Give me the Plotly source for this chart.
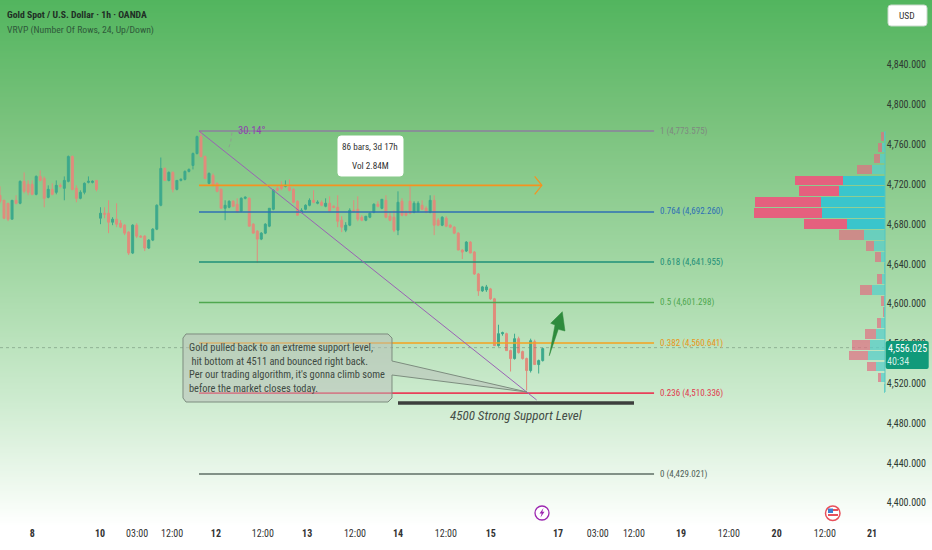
"""Gold spot 1h chart with fib levels and a volume profile."""

import numpy as np
import plotly.graph_objects as go

FONT = "'Roboto Condensed', 'Noto Sans Condensed', 'Open Sans Condensed', 'DejaVu Sans Condensed', Roboto, sans-serif"
PX_PER_BAR = 4.02
PLOT_H = 526

# candles
bar_open = [4709, 4704, 4701, 4685, 4704, 4701, 4723, 4720, 4720, 4710, 4728, 4726, 4707, 4715, 4712, 4719, 4716, 4723,
            4748, 4716, 4706, 4712, 4722, 4722, 4724, 4686, 4691, 4691, 4682, 4685, 4681, 4679, 4672, 4651, 4679, 4668,
            4668, 4656, 4664, 4675, 4699, 4736, 4724, 4732, 4715, 4724, 4725, 4733, 4739, 4751, 4768, 4748, 4721, 4729,
            4721, 4715, 4696, 4697, 4703, 4700, 4693, 4706, 4706, 4680, 4673, 4665, 4671, 4678, 4695, 4716, 4719, 4718,
            4717, 4715, 4703, 4692, 4695, 4699, 4704, 4701, 4702, 4698, 4701, 4698, 4697, 4684, 4674, 4679, 4694, 4695,
            4687, 4684, 4687, 4692, 4700, 4696, 4704, 4688, 4687, 4674, 4703, 4692, 4703, 4692, 4693, 4699, 4696, 4692,
            4704, 4684, 4679, 4686, 4679, 4677, 4671, 4654, 4653, 4662, 4652, 4630, 4613, 4614, 4615, 4605, 4558, 4570,
            4570, 4553, 4545, 4565, 4552, 4545, 4533, 4562, 4539, 4543]
bar_high = [4718, 4704.5, 4701, 4704, 4709, 4724, 4732, 4724, 4724, 4729, 4734, 4728, 4719, 4721, 4724, 4721, 4728, 4749,
            4749, 4719, 4714, 4722, 4728, 4724, 4724, 4697, 4697, 4704, 4687, 4701, 4684, 4680, 4673, 4680, 4681, 4669,
            4669, 4665, 4676, 4700, 4747, 4737, 4733, 4733, 4724, 4726, 4734, 4736, 4752, 4769, 4774, 4749, 4732, 4731,
            4722, 4716, 4704, 4704, 4704, 4706, 4707, 4708, 4707, 4681, 4674, 4672, 4681, 4696, 4715, 4718, 4723, 4724,
            4725, 4716, 4704, 4696, 4700, 4706, 4714, 4704, 4704, 4706, 4708, 4699, 4709, 4688, 4682, 4696, 4704, 4708,
            4689, 4688, 4692, 4701, 4703, 4705, 4709, 4692, 4694, 4713, 4706, 4694, 4718, 4703, 4703, 4704, 4698, 4709,
            4709, 4686, 4688, 4688, 4680, 4678, 4672, 4655, 4663, 4663, 4653, 4631, 4618, 4619, 4616, 4606, 4579, 4572,
            4571, 4554, 4570, 4567, 4553, 4546, 4565, 4564, 4544, 4556]
bar_low = [4701, 4685, 4683, 4685, 4700, 4700, 4711, 4709, 4709, 4709, 4723, 4697, 4706, 4709, 4710, 4716, 4704, 4722,
           4714, 4702, 4705, 4710, 4721, 4721, 4713, 4680, 4686, 4671, 4679, 4677, 4676, 4669, 4649, 4650, 4666, 4667,
           4653, 4655, 4663, 4674, 4698, 4724, 4723, 4712, 4714, 4723, 4724, 4732, 4735, 4750, 4747, 4725, 4720, 4718,
           4712, 4696, 4684, 4696, 4697, 4692, 4692, 4705, 4678, 4671, 4641, 4664, 4670, 4677, 4694, 4713, 4714, 4717,
           4713, 4701, 4689, 4691, 4694, 4698, 4701, 4700, 4698, 4697, 4692, 4696, 4677, 4672, 4672, 4678, 4692, 4683,
           4683, 4683, 4686, 4691, 4697, 4695, 4686, 4683, 4672, 4669, 4688, 4688, 4690, 4691, 4692, 4694, 4691, 4691,
           4669, 4678, 4678, 4677, 4676, 4670, 4654, 4645, 4652, 4651, 4629, 4608, 4612, 4612, 4604, 4558, 4557, 4568,
           4553, 4532, 4544, 4550, 4544, 4513, 4531, 4539, 4530, 4542]
bar_close = [4703, 4686, 4685, 4704, 4701, 4723, 4713, 4712, 4710, 4728, 4724, 4706, 4715, 4710, 4719, 4718, 4724, 4748,
             4715, 4706, 4712, 4721, 4723, 4723, 4715, 4691, 4690, 4682, 4685, 4680, 4677, 4671, 4651, 4679, 4668, 4667,
             4656, 4664, 4675, 4699, 4736, 4724, 4732, 4715, 4724, 4725, 4733, 4735, 4751, 4768, 4748, 4726, 4731, 4719,
             4713, 4696, 4699, 4703, 4698, 4692, 4706, 4707, 4678, 4671, 4665, 4671, 4680, 4696, 4714, 4714, 4716, 4719,
             4714, 4702, 4689, 4694, 4699, 4704, 4702, 4702, 4699, 4701, 4693, 4697, 4683, 4677, 4679, 4694, 4693, 4685,
             4684, 4688, 4691, 4700, 4698, 4705, 4687, 4684, 4674, 4702, 4689, 4689, 4691, 4701, 4701, 4695, 4692, 4704,
             4679, 4679, 4687, 4678, 4677, 4671, 4654, 4652, 4662, 4651, 4630, 4613, 4617, 4617, 4605, 4558, 4570, 4571,
             4553, 4545, 4565, 4551, 4545, 4533, 4563, 4539, 4543, 4555]
bar_index = list(range(len(bar_open)))

# fib retracement
fib_levels = ["1", "0.764", "0.618", "0.5", "0.382", "0.236", "0"]
fib_prices = [4773.575, 4692.260, 4641.955, 4601.298, 4560.641, 4510.336, 4429.021]
fib_colors = ["#8d7f9e", "#2f6fb5", "#1f8f78", "#4fa84f", "#f5a21f", "#e8415a", "#5f6f66"]
fib_label_colors = ["#7f8a80", "#2f6fb5", "#1f8f78", "#4fa84f", "#e8951a", "#e03a4e", "#4f5f56"]
fib_bars = [49.5, 162.7]

# volume profile rows, thousands
row_price = [4768, 4757, 4746, 4735, 4724, 4713, 4702, 4691, 4680, 4669, 4658, 4647,
             4636, 4625, 4614, 4603, 4592, 4581, 4570, 4559, 4548, 4537, 4526, 4515]
row_up = [4, 11, 18, 47, 160, 174, 242, 239, 142, 79, 39, 13, 1, 10, 47, 3, 1, 15, 34, 54, 63, 34, 13, 2]
row_down = [10, 14, 23, 58, 179, 152, 251, 257, 165, 94, 32, 22, 3, 19, 48, 9, 6, 14, 41, 71, 73, 33, 13, 2]
value_area = [4724, 4713, 4702, 4691, 4680]

# axes
price_ticks = [4840, 4800, 4760, 4720, 4680, 4640, 4600, 4560, 4520, 4480, 4440, 4400]
time_ticks = [8, 24.9, 34.1, 42.8, 53.7, 65.4, 76.4, 88.3, 99, 110.9, 122.1,
              138.8, 148.7, 157.7, 169.4, 181.3, 193.2, 205.2, 216.9]
time_labels = ["<b>8</b>", "<b>10</b>", "03:00", "12:00", "<b>12</b>", "12:00", "<b>13</b>", "12:00", "<b>14</b>",
               "12:00", "<b>15</b>", "<b>17</b>", "03:00", "12:00", "<b>19</b>", "12:00", "<b>20</b>", "12:00",
               "<b>21</b>"]

# background fade, fraction of plot height -> colour
fade_stops = [0, 0.05, 0.24, 0.468, 0.772, 1]
fade_colors = ["#ffffff", "#f4fbf4", "#cdebcf", "#a6d9a8", "#79c27c", "#52b55e"]

y_top = 4773.6 + 131 * 1.0045
y_bottom = 4773.6 - (PLOT_H - 131) * 1.0045
x_end = 932 / PX_PER_BAR


def xp(px):
    return px / 932


def yp(py):
    return 1 - py / PLOT_H


def paper_path(points):
    """Closed SVG path from picture pixels."""
    return "M " + " L ".join(f"{xp(x):.5f},{yp(y):.5f}" for x, y in points) + " Z"


def round_rect(x0, y0, x1, y1, r):
    return (f"M {xp(x0 + r):.5f},{yp(y0):.5f} L {xp(x1 - r):.5f},{yp(y0):.5f} "
            f"Q {xp(x1):.5f},{yp(y0):.5f} {xp(x1):.5f},{yp(y0 + r):.5f} L {xp(x1):.5f},{yp(y1 - r):.5f} "
            f"Q {xp(x1):.5f},{yp(y1):.5f} {xp(x1 - r):.5f},{yp(y1):.5f} L {xp(x0 + r):.5f},{yp(y1):.5f} "
            f"Q {xp(x0):.5f},{yp(y1):.5f} {xp(x0):.5f},{yp(y1 - r):.5f} L {xp(x0):.5f},{yp(y0 + r):.5f} "
            f"Q {xp(x0):.5f},{yp(y0):.5f} {xp(x0 + r):.5f},{yp(y0):.5f} Z")


def line_trace(x, y, color, width=1.5, dash="solid"):
    return go.Scatter(x=x, y=y, mode="lines", line=dict(color=color, width=width, dash=dash),
                      hoverinfo="skip", showlegend=False)


fig = go.Figure()

# gradient background
fade_y = np.linspace(y_bottom, y_top, 264)
fig.add_trace(go.Heatmap(
    x=[0, x_end],
    y=fade_y,
    z=[[v, v] for v in (fade_y - y_bottom) / (y_top - y_bottom)],
    zmin=0, zmax=1,
    colorscale=list(zip(fade_stops, fade_colors)),
    showscale=False,
    hoverinfo="skip",
))

# last price line
fig.add_trace(line_trace([0, 220], [4556, 4556], "rgba(110,140,115,0.55)", 1, "dot"))

fig.add_trace(go.Candlestick(
    x=bar_index, open=bar_open, high=bar_high, low=bar_low, close=bar_close,
    increasing=dict(line=dict(color="#3da98c", width=1), fillcolor="#3da98c"),
    decreasing=dict(line=dict(color="#e08c7c", width=1), fillcolor="#e08c7c"),
    whiskerwidth=0,
    showlegend=False,
))

# fib levels and labels
for price, color in zip(fib_prices, fib_colors):
    fig.add_trace(line_trace(fib_bars, [price, price], color, 1.6))

# trend line, angle arc, horizontal ray with arrow head
fig.add_trace(line_trace([49.5, 133.5], [4773.6, 4503.4], "#9a62b4", 1))
fig.add_trace(line_trace([57.7, 57.4, 56.7], [4772, 4763, 4754], "#8f9f8f", 1, "dot"))
fig.add_trace(line_trace([49.5, 134.8], [4719, 4719], "#f5931f", 1.6))
fig.add_trace(line_trace([133, 134.8, 133], [4728, 4719, 4710], "#f5931f", 1.2))

# volume profile on its own reversed axis, zero at the right
up_colors = ["#3ac5cc" if p in value_area else "rgba(90,205,200,0.75)" for p in row_price]
down_colors = ["#e5607e" if p in value_area else "rgba(225,110,130,0.7)" for p in row_price]
fig.add_trace(go.Bar(y=row_price, x=row_up, orientation="h", xaxis="x2", width=9.8,
                     marker=dict(color=up_colors, line=dict(width=0)), hoverinfo="skip", showlegend=False))
fig.add_trace(go.Bar(y=row_price, x=row_down, orientation="h", xaxis="x2", width=9.8,
                     marker=dict(color=down_colors, line=dict(width=0)), hoverinfo="skip", showlegend=False))

shapes = [
    # profile baseline
    dict(type="line", xref="paper", yref="paper", x0=xp(885), x1=xp(885), y0=yp(131), y1=yp(392),
         line=dict(color="#55c5c0", width=1)),
    # callout
    dict(type="path", xref="paper", yref="paper", path=paper_path(
        [(186, 334), (388, 334), (392, 338), (392, 361), (527, 392), (392, 375), (392, 398),
         (388, 402), (186, 402), (183, 398), (183, 338)]),
        fillcolor="rgba(185,190,185,0.5)", line=dict(color="#7d8d7f", width=1)),
    # support bar
    dict(type="line", xref="paper", yref="paper", x0=xp(398), x1=xp(634), y0=yp(403), y1=yp(403),
         line=dict(color="#3d3f3d", width=3.5)),
    # green arrow
    dict(type="path", xref="paper", yref="paper", path=paper_path(
        [(549.3, 355.7), (558.3, 329.3), (565, 331), (562.3, 311.7), (550.7, 323.3), (555, 325)]),
        fillcolor="#2e8b3d", line=dict(color="#2e8b3d", width=0.5)),
    # bars-range box
    dict(type="path", xref="paper", yref="paper", path=round_rect(338, 136, 403, 176, 3),
         fillcolor="#ffffff", line=dict(color="#ffffff", width=1)),
    # USD button
    dict(type="path", xref="paper", yref="paper", path=round_rect(888, 5, 927, 26, 3),
         fillcolor="#ffffff", line=dict(color="#c9d9cc", width=1)),
    # last price tag
    dict(type="path", xref="paper", yref="paper", path=round_rect(885.7, 341, 928.7, 369, 2),
         fillcolor="#119a7a", line=dict(color="#119a7a", width=0)),
    # event markers
    dict(type="circle", xref="paper", yref="paper", x0=xp(535), x1=xp(549), y0=yp(506), y1=yp(520),
         fillcolor="#ffffff", line=dict(color="#9c27b0", width=1.3)),
    dict(type="path", xref="paper", yref="paper", path=paper_path(
        [(543.5, 508), (539.5, 513.5), (541.7, 513.5), (540.5, 517.5), (544.5, 511.8), (542.3, 511.8)]),
        fillcolor="#9c27b0", line=dict(width=0)),
    dict(type="circle", xref="paper", yref="paper", x0=xp(825.5), x1=xp(840), y0=yp(506), y1=yp(520.5),
         fillcolor="#ffffff", line=dict(color="#e8505b", width=1.5)),
    dict(type="rect", xref="paper", yref="paper", x0=xp(828), x1=xp(833), y0=yp(508.5), y1=yp(513),
         fillcolor="#3f7fd0", line=dict(width=0)),
    dict(type="rect", xref="paper", yref="paper", x0=xp(833), x1=xp(838), y0=yp(509), y1=yp(511),
         fillcolor="#e8505b", line=dict(width=0)),
    dict(type="rect", xref="paper", yref="paper", x0=xp(828), x1=xp(838), y0=yp(514), y1=yp(516),
         fillcolor="#e8505b", line=dict(width=0)),
]


def note(text, px, py, size=11, color="#333333", anchor="left", **kw):
    return dict(text=text, xref="paper", yref="paper", x=xp(px), y=yp(py), xanchor=anchor, yanchor="middle",
                showarrow=False, font=dict(family=FONT, size=size, color=color), **kw)


annotations = [
    note("<b>Gold Spot / U.S. Dollar · 1h · OANDA</b>", 5, 15, 9.7, "#1f2f25"),
    note("VRVP (Number Of Rows, 24, Up/Down)", 5, 30, 9.7, "#2f5a3a"),
    note("USD", 907, 15.5, 9.5, "#333333", "center"),
    note("30.14°", 252, 131, 10.5, "#8e44ad", "center"),
    note("86 bars, 3d 17h", 370, 146, 9.2, "#333333", "center"),
    note("Vol 2.84M", 370, 165, 9.2, "#333333", "center"),
    note("Gold pulled back to an extreme support level,<br>\u00a0hit bottom at 4511 and bounced right back.<br>"
         "Per our trading algorithm, it's gonna climb some<br>before the market closes today.",
         187, 367.5, 10.4, "#404a42", align="left"),
    note("<i>4500 Strong Support Level</i>", 516, 415, 13, "#454d47", "center"),
    note("4,556.025", 907, 348, 10, "#ffffff", "center"),
    note("40:34", 898, 361, 10, "#cfeee5", "center"),
]
for level, price, color in zip(fib_levels, fib_prices, fib_label_colors):
    annotations.append(dict(
        text=f"{level} ({price:,.3f})", xref="x", yref="y", x=163.6, y=price, xanchor="left", yanchor="middle",
        showarrow=False, font=dict(family=FONT, size=9, color=color),
    ))

fig.update_layout(
    width=932,
    height=550,
    margin=dict(l=0, r=0, t=0, b=24),
    paper_bgcolor="#ffffff",
    plot_bgcolor="#ffffff",
    barmode="stack",
    showlegend=False,
    dragmode=False,
    font=dict(family=FONT, size=10, color="#333333"),
    shapes=shapes,
    annotations=annotations,
    xaxis=dict(
        range=[0, x_end], rangeslider=dict(visible=False), showgrid=False, zeroline=False, showline=False,
        tickmode="array", tickvals=time_ticks, ticktext=time_labels, ticks="", ticklen=0,
        tickfont=dict(family=FONT, size=10, color="#333333"),
    ),
    xaxis2=dict(overlaying="x", range=[3362, -180], visible=False, showgrid=False, zeroline=False),
    yaxis=dict(
        range=[y_bottom, y_top], side="right", showgrid=False, zeroline=False, showline=False,
        tickmode="array", tickvals=price_ticks, tickformat=",.3f", ticks="", ticklabelposition="inside",
        ticklabelstandoff=3,
        tickfont=dict(family=FONT, size=10, color="#2f3a33"),
    ),
)

fig.write_html("out.html", post_script="document.body.style.margin='0';", config=dict(displayModeBar=False))
